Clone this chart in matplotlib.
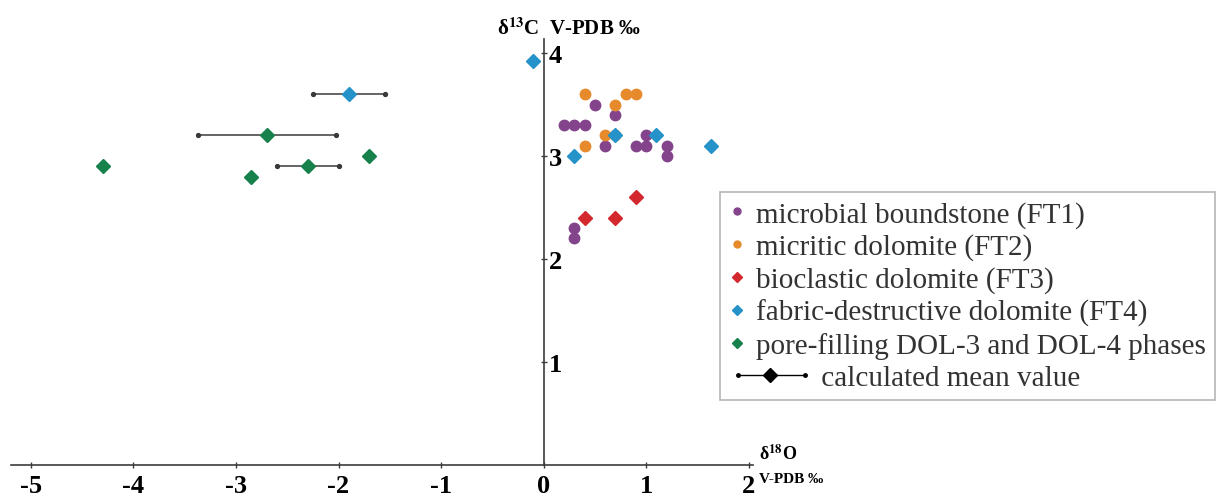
import matplotlib
matplotlib.use('Agg')
import matplotlib.pyplot as plt
from matplotlib.lines import Line2D

plt.rcParams['font.family'] = ['Liberation Serif', 'DejaVu Serif']
plt.rcParams['mathtext.fontset'] = 'stix'

# delta18O (x) / delta13C (y), V-PDB permil
ft1_x = [0.2, 0.3, 0.4, 0.5, 0.7, 0.6, 0.9, 1.0, 1.0, 1.2, 1.2, 0.3, 0.3]
ft1_y = [3.3, 3.3, 3.3, 3.5, 3.4, 3.1, 3.1, 3.1, 3.2, 3.1, 3.0, 2.3, 2.2]
ft2_x = [0.4, 0.7, 0.8, 0.9, 0.6, 0.7, 0.4]
ft2_y = [3.6, 3.5, 3.6, 3.6, 3.2, 3.2, 3.1]
ft3_x = [0.4, 0.7, 0.9]
ft3_y = [2.4, 2.4, 2.6]
ft4_x = [-0.1, 0.3, 0.7, 1.1, 1.63]
ft4_y = [3.92, 3.0, 3.2, 3.2, 3.1]
dol_x = [-4.3, -2.85, -1.7]
dol_y = [2.9, 2.8, 3.0]

# calculated mean values with range
mean_x = [-1.9, -2.7, -2.3]
mean_y = [3.6, 3.2, 2.9]
mean_lo = [-2.25, -3.37, -2.6]
mean_hi = [-1.55, -2.02, -2.0]
mean_grp = ['ft4', 'dol', 'dol']

labels = ['microbial boundstone (FT1)', 'micritic dolomite (FT2)',
          'bioclastic dolomite (FT3)', 'fabric-destructive dolomite (FT4)',
          'pore-filling DOL-3 and DOL-4 phases']
x_ticks = [-5, -4, -3, -2, -1, 0, 1, 2]
y_ticks = [1, 2, 3, 4]

c_ft1 = '#84448c'
c_ft2 = '#e68a2c'
c_ft3 = '#d3282d'
c_ft4 = '#2592c9'
c_dol = '#17814b'
grp_col = {'ft4': c_ft4, 'dol': c_dol}

fig = plt.figure(figsize=(12.18, 5.02), dpi=100)
ax = fig.add_axes([0.00944, 0.0717, 0.6085, 0.8494])
ax.set_xlim(-5.19, 2.04)
ax.set_ylim(0, 4.14)

# range bars of the means
for mx, my, lo, hi in zip(mean_x, mean_y, mean_lo, mean_hi):
    ax.plot([lo, hi], [my, my], color='#3a3a3a', lw=1.1, marker='o', ms=2.8, zorder=2)
for mx, my, g in zip(mean_x, mean_y, mean_grp):
    ax.plot(mx, my, ls='none', marker='D', ms=7.5, color=grp_col[g], zorder=3)

ax.plot(ft1_x, ft1_y, ls='none', marker='o', ms=7.5, color=c_ft1, zorder=3)
ax.plot(ft2_x, ft2_y, ls='none', marker='o', ms=7.5, color=c_ft2, zorder=3)
ax.plot(ft3_x, ft3_y, ls='none', marker='D', ms=7.5, color=c_ft3, zorder=3)
ax.plot(ft4_x, ft4_y, ls='none', marker='D', ms=7.5, color=c_ft4, zorder=4)
ax.plot(dol_x, dol_y, ls='none', marker='D', ms=7.5, color=c_dol, zorder=3)

# axes through the origin
for s in ['top', 'right']:
    ax.spines[s].set_visible(False)
ax.spines['left'].set_position(('data', 0))
ax.spines['left'].set_color('#3c3c3c')
ax.spines['bottom'].set_color('#3c3c3c')
ax.spines['left'].set_linewidth(1.2)
ax.spines['bottom'].set_linewidth(1.2)

ax.set_xticks(x_ticks)
ax.set_xticklabels([str(v) for v in x_ticks], fontsize=19, fontweight='bold')
ax.set_yticks(y_ticks)
ax.set_yticklabels([str(v) for v in y_ticks], fontsize=19, fontweight='bold')
ax.tick_params(axis='x', direction='inout', length=5, width=1, color='#3c3c3c', pad=4)
ax.tick_params(axis='y', direction='inout', length=5, width=1, color='#3c3c3c', pad=-6)
for t in ax.get_yticklabels():
    t.set_ha('left')

ax.text(0.25, 4.24, r'δ$^{\mathbf{13}}$C  V-PDB ‰', fontsize=15, fontweight='bold',
        ha='center', va='center', clip_on=False)
ax.text(2.1, 0.11, r'δ$^{\mathbf{18}}$O', fontsize=13, fontweight='bold',
        ha='left', va='center', clip_on=False)
ax.text(2.1, -0.13, 'V-PDB ‰', fontsize=11, fontweight='bold',
        ha='left', va='center', clip_on=False)


class MeanHandler:
    def legend_artist(self, legend, orig_handle, fontsize, handlebox):
        yc = handlebox.height / 2 - handlebox.ydescent
        x0 = -handlebox.xdescent
        ln = Line2D([x0 + 6.5, x0 + 55], [yc, yc], color='k', lw=1,
                    marker='o', ms=2.5)
        dm = Line2D([x0 + 29.5], [yc], color='k', marker='D', ms=7, ls='none')
        handlebox.add_artist(ln)
        handlebox.add_artist(dm)
        return ln


mean_handle = Line2D([], [], color='k')
handles = [
    Line2D([], [], ls='none', marker='o', ms=5, color=c_ft1),
    Line2D([], [], ls='none', marker='o', ms=5, color=c_ft2),
    Line2D([], [], ls='none', marker='D', ms=5, color=c_ft3),
    Line2D([], [], ls='none', marker='D', ms=5, color=c_ft4),
    Line2D([], [], ls='none', marker='D', ms=5, color=c_dol),
    mean_handle,
]
leg = fig.legend(handles, labels + [' ' * 9 + 'calculated mean value'],
                 loc='upper left', bbox_to_anchor=(0.591, 0.6155),
                 bbox_transform=fig.transFigure, borderaxespad=0,
                 fontsize=21, numpoints=1, handlelength=0.6, handletextpad=0.35,
                 borderpad=0.3, labelspacing=0.2, fancybox=False,
                 edgecolor='#b5b5b5', framealpha=1,
                 handler_map={mean_handle: MeanHandler()})
leg.get_frame().set_linewidth(1.2)
for t in leg.get_texts():
    t.set_color('#333333')

fig.savefig('out.png', dpi=100)
